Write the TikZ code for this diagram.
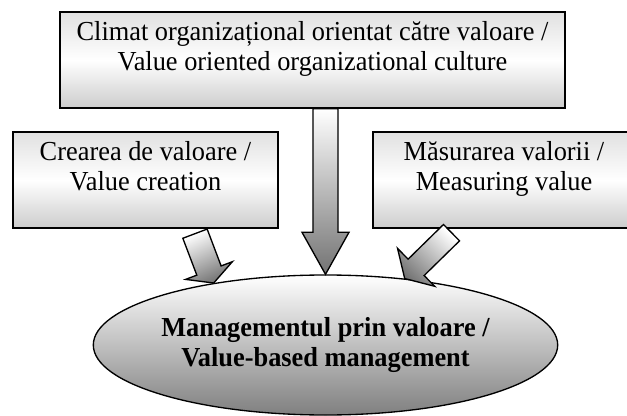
\documentclass[tikz,border=0pt]{standalone}
\usepackage{fontspec}
\setmainfont{Liberation Serif}[FakeStretch=0.96]
\usetikzlibrary{calc}
\usetikzlibrary{shapes.geometric}

% block arrow: style, tail, tip, half shaft, half head, head length
\newcommand{\blockarrow}[6]{%
  \coordinate (neck) at ($(#3)!#6!(#2)$);
  \path[#1] ($(#2)!#4!90:(#3)$) -- ($(neck)!#4!90:(#3)$) -- ($(neck)!#5!90:(#3)$) -- (#3)
    -- ($(neck)!#5!-90:(#3)$) -- ($(neck)!#4!-90:(#3)$) -- ($(#2)!#4!-90:(#3)$) -- cycle;
}

\begin{document}
\begin{tikzpicture}[x=0.75pt, y=-0.75pt, font=\fontsize{20.6}{22.5}\selectfont]
\tikzstyle{valuebox}=[draw=black, line width=1pt, inner sep=0pt, top color=black!12, bottom color=black!20, middle color=white]
\tikzstyle{goal}=[ellipse, draw=black, line width=1pt, inner sep=0pt, minimum width=289pt, minimum height=105pt, top color=white, bottom color=black!50, align=center, font=\fontsize{20.6}{22.5}\selectfont\bfseries]
\tikzstyle{flow}=[draw=black, line width=1pt, top color=white, bottom color=black!55]

\useasboundingbox (0,0) rectangle (627,416);
\clip (0,0) rectangle (627,416);

\node[valuebox] (climat) at (312.5,60) {\parbox[c][72pt][t]{378.75pt}{\centering\vspace*{7pt}Climat organizațional orientat către valoare /\\ Value oriented organizational culture}};
\node[valuebox] (crea) at (145.5,180) {\parbox[c][72pt][t]{198.75pt}{\centering\vspace*{7pt}Crearea de valoare /\\ Value creation}};
\node[valuebox] (masura) at (504,180) {\parbox[c][72pt][t]{196.5pt}{\centering\vspace*{7pt}Măsurarea valorii /\\ Measuring value}};
\node[goal] (mbv) at (325.5,345) {Managementul prin valoare /\\ Value-based management};

\coordinate (top tail) at (climat.south -| mbv.north);
\coordinate (left tail) at ($(crea.south)+(49.5,5)$);
\coordinate (right tail) at ($(masura.south)+(-52.5,4)$);

\blockarrow{flow}{top tail}{mbv.north}{9.4pt}{17.6pt}{31.5pt}
\blockarrow{flow, shading angle=25}{left tail}{mbv.151}{9.75pt}{18.75pt}{10pt}
\blockarrow{flow, shading angle=-44}{right tail}{mbv.40}{8.6pt}{19.9pt}{12pt}
\end{tikzpicture}
\end{document}
